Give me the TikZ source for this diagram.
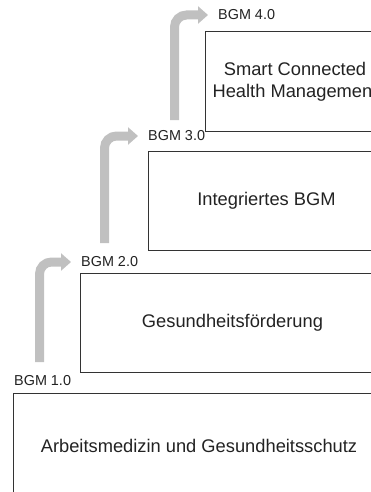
\documentclass[tikz,border=0pt]{standalone}
\usepackage{fontspec}
\setmainfont{Liberation Sans}
\usetikzlibrary{arrows.meta}
\definecolor{arrowgray}{HTML}{C0C0C0}
\definecolor{linegray}{HTML}{333333}
\definecolor{textgray}{HTML}{222222}
\tikzset{
  box/.style={draw=linegray, line width=1pt, rectangle, anchor=north west, inner sep=0pt,
    text=textgray, align=center, font=\fontsize{18.3pt}{22pt}\selectfont},
  lbl/.style={anchor=west, inner sep=0pt, text=textgray, font=\fontsize{14.4pt}{17pt}\selectfont},
  arr/.style={draw=arrowgray, line width=9pt, rounded corners=12pt,
    -{Triangle[length=10pt,width=17pt]}}
}
\begin{document}
\begin{tikzpicture}[x=1pt,y=-1pt]
\useasboundingbox (0,0) rectangle (371,492);
\clip (0,0) rectangle (371,492);
% boxes
\node[box, minimum width=179pt, minimum height=100pt] (b4) at (205,31) {Smart Connected\\Health Management};
\node[box, minimum width=236pt, minimum height=99pt] (b3) at (148,151) {Integriertes BGM};
\node[box, minimum width=304pt, minimum height=99pt] (b2) at (80,273) {Gesundheitsförderung};
\node[box, minimum width=371pt, minimum height=105pt] (b1) at (13,393) {Arbeitsmedizin und Gesundheitsschutz};
% labels
\node[lbl] (l4) at (218,15) {BGM 4.0};
\node[lbl] (l3) at (148,136) {BGM 3.0};
\node[lbl] (l2) at (81,262) {BGM 2.0};
\node[lbl] (l1) at (14,381) {BGM 1.0};
% arrow starts
\coordinate (s4) at (174.5,120);
\coordinate (s3) at (104.5,243);
\coordinate (s2) at (39.5,362);
% arrows
\draw[arr] (s4) |- ([xshift=-10pt]l4.west);
\draw[arr] (s3) |- ([xshift=-10pt]l3.west);
\draw[arr] (s2) |- ([xshift=-10pt]l2.west);
\end{tikzpicture}
\end{document}
